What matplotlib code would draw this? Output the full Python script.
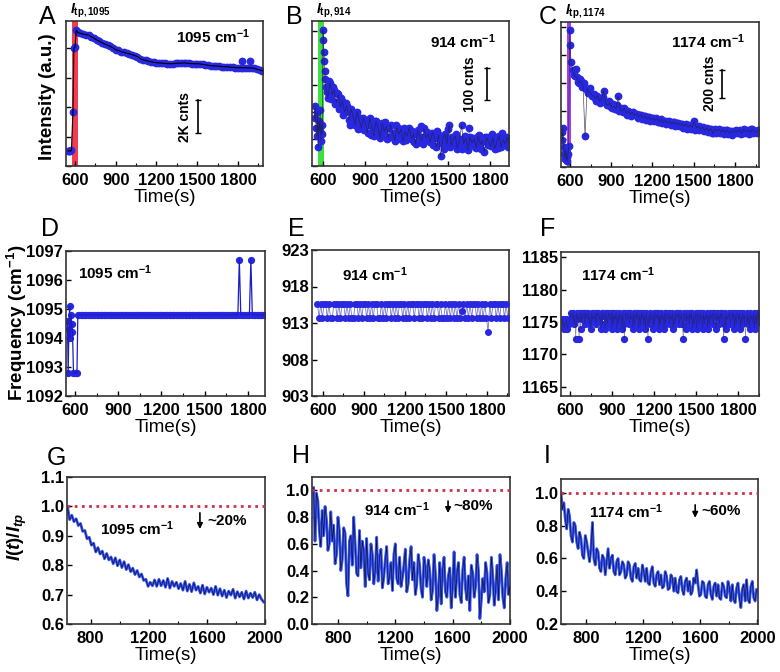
import numpy as np
import matplotlib
matplotlib.use('Agg')
import matplotlib.pyplot as plt
from matplotlib.ticker import MultipleLocator, FixedLocator, NullFormatter, FormatStrFormatter

plt.rcParams['font.family'] = ['Liberation Sans', 'DejaVu Sans']
plt.rcParams['font.weight'] = 'bold'
plt.rcParams['mathtext.fontset'] = 'custom'
plt.rcParams['mathtext.rm'] = 'Liberation Sans:bold'
plt.rcParams['mathtext.bf'] = 'Liberation Sans:bold'
plt.rcParams['mathtext.it'] = 'Liberation Sans:bold:italic'

BLUE = '#2828e0'
LBLUE = '#3656ff'

# ---------------- data ----------------
# A : 1095 cm-1 intensity (counts)
t_a_pre = [550, 558, 566, 574, 585, 592, 600, 610]
a_pre = [910, 940, 900, 960, 3270, 7200, 7250, 8300]
t_a = np.arange(620, 1981, 20)
a_int = [8150, 8100, 8050, 8020, 7990, 7900, 7800, 7700, 7610, 7520,
         7440, 7380, 7300, 7220, 7090, 7050, 6980, 6940, 6880, 6850,
         6800, 6740, 6680, 6560, 6485, 6450, 6400, 6360, 6330, 6300,
         6290, 6280, 6260, 6250, 6240, 6250, 6260, 6280, 6270, 6300,
         6280, 6260, 6250, 6240, 6240, 6230, 6200, 6180, 6150, 6120,
         6110, 6100, 6090, 6070, 6060, 6060, 6040, 6020, 6010, 6000,
         6000, 5990, 6000, 5980, 5990, 5960, 5900, 5860, 5820]
t_a_out = [1830, 1890]
a_out = [6420, 6420]

# B : 914 cm-1 intensity (counts), two interleaved reads of the cloud
t_b_pre = [540, 545, 550, 555, 560, 565, 570, 575, 580, 585, 590, 595,
           600, 603, 606, 609, 612, 615]
b_pre = [150, 190, 120, 95, 170, 60, 140, 110, 175, 80, 130, 100,
         428, 395, 360, 330, 300, 275]
t_b = np.arange(620, 1941, 15)
b_int = [250, 215, 262, 225, 240, 200, 225, 185, 205, 170,
         190, 145, 180, 160, 130, 170, 145, 120, 150, 135,
         105, 150, 125, 95, 140, 118, 88, 135, 110, 125,
         90, 130, 105, 80, 122, 100, 115, 78, 108, 95,
         120, 85, 100, 70, 112, 92, 80, 118, 88, 100,
         75, 105, 90, 60, 98, 30, 82, 100, 70, 130,
         65, 85, 95, 55, 78, 128, 70, 88, 50, 92,
         72, 85, 58, 95, 68, 80, 45, 90, 75, 62,
         88, 55, 78, 95, 60, 82, 70, 90, 65]
t_b2 = np.arange(627, 1948, 15)
b_int2 = [232, 268, 210, 248, 195, 230, 178, 215, 160, 198,
          172, 128, 165, 140, 158, 115, 150, 128, 112, 142,
          130, 98, 118, 140, 102, 125, 95, 110, 138, 85,
          118, 92, 102, 128, 85, 110, 96, 120, 82, 105,
          95, 110, 75, 102, 90, 125, 70, 95, 108, 78,
          98, 65, 88, 110, 72, 92, 55, 85, 115, 60,
          90, 72, 100, 62, 85, 55, 95, 75, 118, 68,
          88, 60, 82, 98, 52, 78, 92, 65, 85, 100,
          70, 92, 58, 80, 105, 68, 88, 60, 78]

# C : 1174 cm-1 intensity (counts)
t_c_pre = [540, 545, 550, 555, 560, 565, 570, 575, 580, 585, 590,
           598, 603, 607]
c_pre = [250, 190, 280, 140, 90, 60, 120, 70, 40, 90, 150,
         979, 871, 750]
t_c = np.arange(620, 1971, 15)
c_int = [690, 650, 640, 600, 615, 580, 220, 560, 540, 520,
         505, 490, 510, 470, 485, 545, 455, 440, 460, 425,
         432, 415, 505, 410, 398, 420, 385, 400, 378, 390,
         370, 382, 360, 375, 352, 365, 345, 355, 338, 350,
         335, 345, 325, 340, 318, 332, 312, 325, 308, 320,
         305, 315, 298, 310, 292, 305, 285, 300, 280, 330,
         278, 292, 270, 285, 262, 280, 255, 275, 240, 268,
         258, 272, 250, 265, 245, 262, 240, 258, 248, 262,
         250, 265, 242, 268, 252, 262, 245, 270, 255, 248,
         262]
t_c2 = np.arange(627, 1978, 15)
c_int2 = [660, 700, 610, 630, 575, 600, 555, 530, 565, 505,
          520, 475, 495, 455, 500, 465, 445, 470, 430, 450,
          415, 440, 400, 425, 390, 410, 375, 395, 365, 385,
          375, 350, 368, 345, 362, 338, 358, 330, 348, 328,
          350, 320, 338, 312, 330, 305, 328, 300, 318, 295,
          312, 290, 305, 282, 300, 275, 296, 272, 290, 265,
          285, 262, 280, 255, 272, 250, 270, 245, 262, 240,
          265, 240, 258, 235, 262, 238, 255, 232, 260, 240,
          258, 236, 262, 240, 255, 235, 268, 242, 260, 245,
          255]

# D : 1095 cm-1 peak frequency
t_d_pre = [548, 553, 558, 563, 568, 573, 578, 583, 590, 598, 606, 614]
d_pre = [1094.6, 1092.8, 1094.3, 1095.1, 1094.0, 1094.8, 1094.5, 1094.2,
         1092.8, 1092.8, 1092.8, 1092.8]
t_d = np.arange(620, 1991, 10)
d_level = 1094.8
d_spike_t = [1740, 1820]
d_spike = 1096.7

# E : 914 cm-1 peak frequency, fitted levels
t_e = np.arange(560, 1953, 12)
e_levels = {'H': 915.6, 'L': 913.7, 'M': 914.6, 'X': 911.8}
e_codes = ("HLHLHHLHLL" "HHLHLHHLHL" "HLLHHLHLHH" "LHLHLHHLLH" "LHLHHLHLHL"
           "HHLHLHLHHL" "HHLHLHHLHL" "HLHHLHLLHL" "HLHLHLHLMH" "LHLHLHHLHL"
           "HLHLXHLHHL" "HLHHLHL")

# F : 1174 cm-1 peak frequency, fitted levels
t_f = np.arange(545, 1952, 6)
f_levels = [1172.4, 1172.9, 1173.5, 1174.0, 1174.7, 1175.4, 1176.0, 1176.4]
f_codes = ("4534453445" "7657460756" "0737567476" "5746375657" "4767563747"
           "6375476573" "7465736475" "6374076576" "4756374675" "7364757463"
           "7506475637" "4765736475" "6374765746" "5736475674" "7564076375"
           "6475736457" "3764756374" "6573647567" "4763756475" "7504736576"
           "4675736476" "5736475605" "7463756473" "64757")

# G, H, I : normalised intensity I(t)/I_tp
t_g = np.arange(640, 1991, 15)
g_norm = [1.000, 0.955, 0.970, 0.948, 0.958, 0.935, 0.942, 0.915, 0.918, 0.890,
          0.895, 0.868, 0.875, 0.845, 0.860, 0.838, 0.848, 0.822, 0.840, 0.818,
          0.828, 0.805, 0.825, 0.798, 0.818, 0.792, 0.812, 0.785, 0.802, 0.778,
          0.790, 0.768, 0.782, 0.760, 0.770, 0.748, 0.752, 0.728, 0.742, 0.730,
          0.750, 0.728, 0.752, 0.730, 0.748, 0.725, 0.755, 0.722, 0.745, 0.728,
          0.742, 0.720, 0.738, 0.715, 0.745, 0.712, 0.735, 0.710, 0.740, 0.715,
          0.728, 0.705, 0.732, 0.702, 0.725, 0.708, 0.722, 0.700, 0.728, 0.698,
          0.720, 0.695, 0.715, 0.690, 0.712, 0.698, 0.718, 0.688, 0.710, 0.692,
          0.708, 0.685, 0.712, 0.688, 0.705, 0.690, 0.708, 0.682, 0.700, 0.685,
          0.675]

t_h = np.arange(630, 2001, 10)
h_norm = [1.02, 0.62, 0.98, 0.92, 0.70, 0.58, 0.85, 0.66, 0.88, 0.78,
          0.55, 0.60, 0.84, 0.62, 0.74, 0.45, 0.52, 0.80, 0.70, 0.40,
          0.48, 0.72, 0.68, 0.30, 0.21, 0.62, 0.66, 0.44, 0.80, 0.60,
          0.38, 0.36, 0.70, 0.42, 0.62, 0.55, 0.28, 0.64, 0.38, 0.33,
          0.60, 0.52, 0.30, 0.40, 0.65, 0.32, 0.50, 0.56, 0.27, 0.35,
          0.48, 0.58, 0.30, 0.36, 0.46, 0.25, 0.52, 0.60, 0.34, 0.30,
          0.50, 0.28, 0.35, 0.44, 0.56, 0.24, 0.30, 0.48, 0.58, 0.33,
          0.46, 0.22, 0.30, 0.52, 0.44, 0.26, 0.20, 0.50, 0.42, 0.28,
          0.48, 0.40, 0.18, 0.25, 0.52, 0.38, 0.10, 0.22, 0.46, 0.15,
          0.40, 0.50, 0.24, 0.20, 0.36, 0.42, 0.12, 0.28, 0.54, 0.20,
          0.38, 0.46, 0.22, 0.16, 0.40, 0.50, 0.26, 0.18, 0.36, 0.10,
          0.44, 0.38, 0.20, 0.28, 0.52, 0.40, 0.04, 0.18, 0.34, 0.24,
          0.46, 0.38, 0.16, 0.22, 0.50, 0.36, 0.14, 0.26, 0.44, 0.18,
          0.52, 0.40, 0.20, 0.12, 0.34, 0.46, 0.22, 0.28]

t_i = np.arange(625, 1996, 10)
i_norm = [1.00, 0.90, 0.94, 0.84, 0.78, 0.90, 0.86, 0.74, 0.70, 0.82,
          0.80, 0.70, 0.66, 0.76, 0.72, 0.62, 0.60, 0.74, 0.70, 0.64,
          0.58, 0.66, 0.82, 0.60, 0.56, 0.66, 0.64, 0.54, 0.52, 0.62,
          0.60, 0.50, 0.58, 0.66, 0.54, 0.60, 0.62, 0.52, 0.50, 0.58,
          0.60, 0.50, 0.52, 0.58, 0.56, 0.48, 0.50, 0.58, 0.56, 0.48,
          0.46, 0.55, 0.57, 0.48, 0.54, 0.47, 0.46, 0.56, 0.52, 0.46,
          0.54, 0.45, 0.44, 0.52, 0.55, 0.45, 0.43, 0.50, 0.52, 0.44,
          0.50, 0.42, 0.43, 0.52, 0.49, 0.41, 0.42, 0.50, 0.48, 0.40,
          0.48, 0.40, 0.39, 0.47, 0.49, 0.41, 0.38, 0.46, 0.48, 0.40,
          0.46, 0.38, 0.40, 0.48, 0.45, 0.53, 0.44, 0.37, 0.38, 0.46,
          0.45, 0.37, 0.36, 0.44, 0.46, 0.38, 0.35, 0.43, 0.45, 0.37,
          0.44, 0.36, 0.35, 0.45, 0.43, 0.37, 0.36, 0.46, 0.42, 0.34,
          0.44, 0.35, 0.33, 0.42, 0.45, 0.36, 0.30, 0.41, 0.44, 0.34,
          0.47, 0.35, 0.33, 0.43, 0.46, 0.36, 0.34, 0.41]

bands = ['1095', '914', '1174']
drops = ['~20%', '~80%', '~60%']

# ---------------- figure ----------------
W, H = 780, 672
fig = plt.figure(figsize=(7.8, 6.72), dpi=100)


def box(x0, x1, ytop, ybot):
    return [x0 / W, 1 - ybot / H, (x1 - x0) / W, (ybot - ytop) / H]


def style(ax, xmaj, xmin):
    for s in ax.spines.values():
        s.set_linewidth(1.2)
        s.set_color('#333333')
    ax.tick_params(direction='in', length=3.5, width=1, labelsize=12, pad=5,
                   top=False, right=False)
    ax.tick_params(axis='y', pad=2)
    ax.tick_params(which='minor', direction='in', length=2, width=0.8)
    ax.xaxis.set_major_locator(MultipleLocator(xmaj))
    ax.xaxis.set_minor_locator(MultipleLocator(xmin))
    ax.set_xlabel('Time(s)', fontsize=13.5, labelpad=1)


def cm_label(ax, fx, fy, band):
    ax.text(fx, fy, band + r' cm$^{\mathbf{-1}}$', transform=ax.transAxes,
            ha='center', va='center', fontsize=11)


# row 1 : intensity
axA = fig.add_axes(box(66, 263, 21, 166))
axB = fig.add_axes(box(312, 509, 21, 166))
axC = fig.add_axes(box(561, 759, 22, 167))

axA.axvspan(580, 620, color='#f23c52', lw=0, zorder=0)
axA.plot(t_a_pre + list(t_a), a_pre + a_int, 'o', ms=4.6, color=BLUE, zorder=2)
axA.plot(t_a_pre + list(t_a), a_pre + a_int, '-', lw=0.8, color='k', zorder=3)
axA.plot(t_a_out, a_out, 'o', ms=4.6, color=BLUE, zorder=2)
axA.set_xlim(534, 1984)
axA.set_ylim(0, 8850)
axA.yaxis.set_major_locator(MultipleLocator(1800))
axA.plot([1506, 1506], [2000, 4000], color='k', lw=1.2, marker='_', ms=4)
axA.text(1410, 2970, '2K cnts', rotation=90, ha='center', va='center', fontsize=10)

tb_all = t_b_pre + list(t_b)
axB.axvspan(565, 605, color='#3ee03e', lw=0, zorder=0)
axB.plot(t_b2, b_int2, '-', lw=0.4, color='#9090c8', zorder=1)
axB.plot(t_b2, b_int2, 'o', ms=4.6, color=BLUE, zorder=2)
axB.plot(tb_all, b_pre + b_int, 'o', ms=4.6, color=BLUE, zorder=2)
axB.plot(tb_all, b_pre + b_int, '-', lw=0.5, color='#202040', alpha=0.8, zorder=3)
axB.set_xlim(521, 1936)
axB.set_ylim(0, 456)
axB.yaxis.set_major_locator(MultipleLocator(85))
axB.plot([1778, 1778], [209, 309], color='k', lw=1.2, marker='_', ms=4)
axB.text(1656, 256, '100 cnts', rotation=90, ha='center', va='center', fontsize=10)

tc_all = t_c_pre + list(t_c)
axC.axvspan(575, 605, color='#a43ef0', lw=0, zorder=0)
axC.plot(t_c2, c_int2, '-', lw=0.4, color='#9090c8', zorder=1)
axC.plot(t_c2, c_int2, 'o', ms=4.6, color=BLUE, zorder=2)
axC.plot(tc_all, c_pre + c_int, 'o', ms=4.6, color=BLUE, zorder=2)
axC.plot(tc_all, c_pre + c_int, '-', lw=0.5, color='#202040', alpha=0.8, zorder=3)
axC.set_xlim(535, 1975)
axC.set_ylim(0, 1036)
axC.yaxis.set_major_locator(MultipleLocator(200))
axC.plot([1705, 1705], [493, 693], color='k', lw=1.2, marker='_', ms=4)
axC.text(1618, 600, '200 cnts', rotation=90, ha='center', va='center', fontsize=10)

for ax, fx, fy, b in [(axA, 0.746, 0.89, '1095'), (axB, 0.766, 0.855, '914'),
                      (axC, 0.742, 0.862, '1174')]:
    style(ax, 300, 150)
    ax.yaxis.set_major_formatter(NullFormatter())
    cm_label(ax, fx, fy, b)
    ax.text(0.02, 1.005, r'$I_{\rm tp,' + b + '}$', transform=ax.transAxes,
            ha='left', va='bottom', fontsize=10)

# row 2 : frequency
axD = fig.add_axes(box(66, 265, 251, 396))
axE = fig.add_axes(box(312, 509, 250, 396))
axF = fig.add_axes(box(561, 759, 252, 396))

d_vals = np.where(np.isin(t_d, d_spike_t), d_spike, d_level)
td_all = t_d_pre + list(t_d)
dv_all = d_pre + list(d_vals)
axD.plot(td_all, dv_all, 'o', ms=4.2, color=BLUE, zorder=2)
axD.plot(td_all, dv_all, '-', lw=0.9, color='#1c1cc8', zorder=3)
axD.set_xlim(538, 1918)
axD.set_ylim(1092, 1097)
axD.yaxis.set_major_locator(MultipleLocator(1))

e_vals = [e_levels[c] for c in e_codes]
axE.plot(t_e, e_vals, '-', lw=0.6, color='#7878c4', zorder=2)
axE.plot(t_e, e_vals, 'o', ms=4, color=BLUE, zorder=3)
axE.set_xlim(520, 1961)
axE.set_ylim(903, 923)
axE.yaxis.set_major_locator(FixedLocator([903, 908, 913, 918, 923]))

f_vals = [f_levels[int(c)] for c in f_codes]
axF.plot(t_f, f_vals, 'o', ms=4.2, color=BLUE, zorder=2)
axF.plot(t_f, f_vals, '-', lw=0.4, color='#202040', alpha=0.6, zorder=3)
axF.set_xlim(536, 1950)
axF.set_ylim(1163.6, 1185.8)
axF.yaxis.set_major_locator(FixedLocator([1165, 1170, 1175, 1180, 1185]))

for ax, fx, fy, b in [(axD, 0.246, 0.848, '1095'), (axE, 0.32, 0.83, '914'),
                      (axF, 0.288, 0.84, '1174')]:
    style(ax, 300, 150)
    cm_label(ax, fx, fy, b)

# row 3 : normalised
axG = fig.add_axes(box(67, 265, 477, 624))
axH = fig.add_axes(box(312, 510, 477, 624))
axI = fig.add_axes(box(561, 758, 479, 624))

setup = [
    (axG, t_g, g_norm, (637, 2000), (0.6, 1.1), 0.1, (0.354, 0.646), 1552, (0.978, 0.923), 1738, 0.95),
    (axH, t_h, h_norm, (619, 2000), (0.0, 1.1), 0.2, (0.43, 0.78), 1568, (0.92, 0.83), 1742, 0.886),
    (axI, t_i, i_norm, (625, 2005), (0.2, 1.085), 0.2, (0.33, 0.772), 1565, (0.927, 0.848), 1747, 0.89),
]
for k, (ax, t, v, xl, yl, ystep, tpos, ax_x, ay, tx, ty) in enumerate(setup):
    ax.plot(t, v, '-', lw=2.0, color=LBLUE, zorder=2)
    ax.plot(t, v, '-', lw=0.5, color='#101030', zorder=3)
    ax.axhline(1.0, color='#d0304a', lw=2, ls=(0, (1, 1.6)), zorder=4)
    ax.set_xlim(*xl)
    ax.set_ylim(*yl)
    style(ax, 400, 200)
    ax.yaxis.set_major_locator(MultipleLocator(ystep))
    ax.yaxis.set_major_formatter(FormatStrFormatter('%.1f'))
    cm_label(ax, tpos[0], tpos[1], bands[k])
    ax.annotate('', xy=(ax_x, ay[1]), xytext=(ax_x, ay[0]),
                arrowprops=dict(arrowstyle='-|>', color='k', lw=1.2,
                                mutation_scale=8, shrinkA=0, shrinkB=0))
    ax.text(tx, ty, drops[k], ha='center', va='center', fontsize=11)

# y labels
fig.text(48 / W, 1 - 97 / H, 'Intensity (a.u.)', rotation=90, ha='center',
         va='center', fontsize=13.5)
fig.text(17 / W, 1 - 323 / H, r'Frequency (cm$^{\mathbf{-1}}$)', rotation=90,
         ha='center', va='center', fontsize=13.5)
fig.text(17 / W, 1 - 537 / H, r'$I(t)/I_{tp}$', rotation=90, ha='center',
         va='center', fontsize=13.5)

# panel letters
letters = [('A', 47, 17), ('B', 294, 17), ('C', 548, 17),
           ('D', 50, 229), ('E', 296, 229), ('F', 548, 229),
           ('G', 56, 458), ('H', 301, 456), ('I', 547, 456)]
for lab, x, y in letters:
    fig.text(x / W, 1 - y / H, lab, ha='center', va='center', fontsize=18,
             fontweight='normal')

fig.savefig('out.png', dpi=100)
